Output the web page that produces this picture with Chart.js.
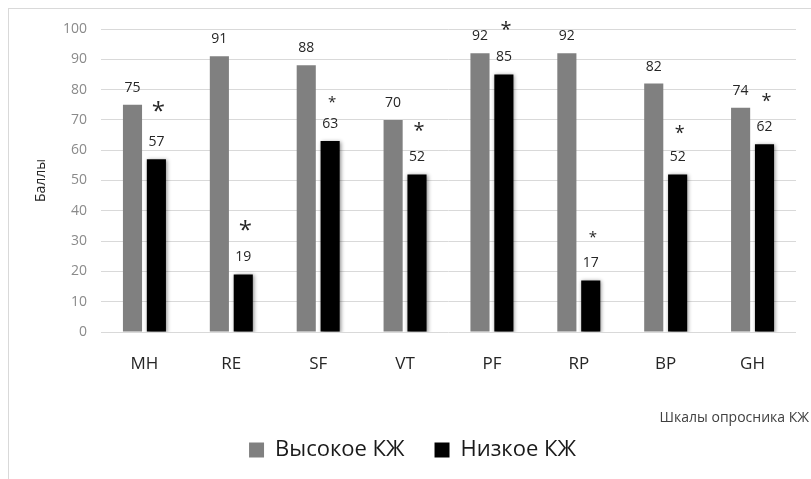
<!DOCTYPE html>
<html>
<head>
<meta charset="utf-8">
<script src="https://cdn.jsdelivr.net/npm/chart.js@4"></script>
<style>
    html, body { margin: 0; padding: 0; background: #fff; }
    #wrap { position: relative; width: 811px; height: 479px; overflow: hidden; }
    #frame { position: absolute; left: 8px; top: 8px; width: 830px; height: 500px; border: 1px solid #d9d9d9; }
    canvas { position: absolute; left: 0; top: 0; }
</style>
</head>
<body>
<div id="wrap">
    <div id="frame"></div>
    <canvas id="kzhChart" width="811" height="479"></canvas>
</div>
<script>
// Шкалы опросника и значения
const scalesKZh = ['MH', 'RE', 'SF', 'VT', 'PF', 'RP', 'BP', 'GH'];
const highKZh = [75, 91, 88, 70, 92, 92, 82, 74];
const lowKZh = [57, 19, 63, 52, 85, 17, 52, 62];
// звёздочки (достоверность) над низким КЖ: позиция в баллах и размер
const starAt = [74, 35, 76.5, 67.5, 101, 32, 66.5, 77];
const starSize = [24, 24, 15, 20, 20, 15, 18, 18];
const yTicks = [0, 10, 20, 30, 40, 50, 60, 70, 80, 90, 100];

const FONT = "'Open Sans', sans-serif";

// подписи значений и звёздочки
const labelPlugin = {
    id: 'labels',
    afterDatasetsDraw(chart) {
        const ctx = chart.ctx;
        const y = chart.scales.y;
        ctx.save();
        ctx.fillStyle = '#262626';
        ctx.textAlign = 'center';
        ctx.textBaseline = 'middle';
        ctx.font = '14px ' + FONT;
        chart.data.datasets.forEach((ds, di) => {
            chart.getDatasetMeta(di).data.forEach((bar, i) => {
                ctx.fillText(ds.data[i], bar.x, bar.y - 17);
            });
        });
        const lowMeta = chart.getDatasetMeta(1);
        lowMeta.data.forEach((bar, i) => {
            ctx.font = starSize[i] + 'px ' + FONT;
            ctx.fillText('*', bar.x + 2, y.getPixelForValue(starAt[i]) + starSize[i] * 0.2);
        });
        // подпись оси X справа
        ctx.textAlign = 'right';
        ctx.font = '14px ' + FONT;
        ctx.fillStyle = '#404040';
        ctx.fillText('Шкалы опросника КЖ', 809, 418);
        ctx.restore();
    }
};

// лёгкая тень у чёрных столбцов
const shadowPlugin = {
    id: 'shadow',
    beforeDatasetDraw(chart, args) {
        if (args.index === 1) {
            chart.ctx.save();
            chart.ctx.shadowColor = 'rgba(0,0,0,0.45)';
            chart.ctx.shadowBlur = 4;
            chart.ctx.shadowOffsetX = 1;
            chart.ctx.shadowOffsetY = 1;
        }
    },
    afterDatasetDraw(chart, args) {
        if (args.index === 1) chart.ctx.restore();
    }
};

new Chart(document.getElementById('kzhChart'), {
    type: 'bar',
    data: {
        labels: scalesKZh,
        datasets: [
            { label: 'Высокое КЖ', data: highKZh, backgroundColor: '#808080', barPercentage: 0.8, categoryPercentage: 0.55 },
            { label: 'Низкое КЖ', data: lowKZh, backgroundColor: '#000000', barPercentage: 0.8, categoryPercentage: 0.55 }
        ]
    },
    options: {
        responsive: false,
        animation: false,
        layout: { padding: { left: 29, right: 15, top: 29, bottom: 8 } },
        plugins: {
            tooltip: { enabled: false },
            legend: {
                position: 'bottom',
                labels: {
                    font: { family: FONT, size: 22 },
                    color: '#1a1a1a',
                    usePointStyle: true,
                    pointStyle: 'rect',
                    boxWidth: 15,
                    boxHeight: 15,
                    padding: 30
                }
            }
        },
        scales: {
            x: {
                grid: { display: false },
                border: { display: false },
                ticks: { font: { family: FONT, size: 17 }, color: '#262626', padding: 14 },
                afterFit(scale) { scale.height = 77; }
            },
            y: {
                min: 0,
                max: 100,
                afterBuildTicks(scale) { scale.ticks = yTicks.map(v => ({ value: v })); },
                grid: { color: '#d9d9d9', drawTicks: false },
                border: { display: false },
                ticks: { font: { family: FONT, size: 14 }, color: '#8a8a8a', padding: 14 },
                title: { display: true, text: 'Баллы', font: { family: FONT, size: 14 }, color: '#262626' },
                afterFit(scale) { scale.width = 72; }
            }
        }
    },
    plugins: [shadowPlugin, labelPlugin]
});
</script>
</body>
</html>
